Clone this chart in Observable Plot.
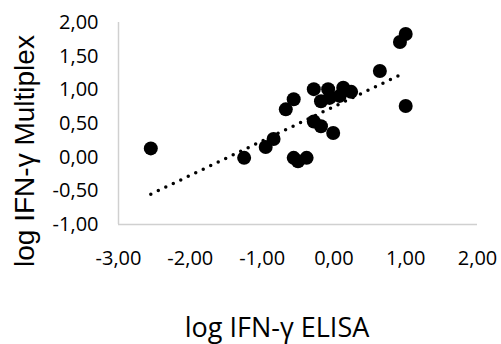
<!DOCTYPE html>
<html>
<head>
<meta charset="utf-8">
<script src="https://cdn.jsdelivr.net/npm/d3@7"></script>
<script src="https://cdn.jsdelivr.net/npm/@observablehq/plot@0.6"></script>
<style>
  html, body { margin: 0; padding: 0; background: #fff; }
</style>
</head>
<body>
<div id="chart"></div>
<script>
const xElisa = [-2.55, -1.25, -0.95, -0.84, -0.67, -0.56, -0.56, -0.50, -0.38, -0.28, -0.08, 0.13, 0.24, -0.18, -0.06, 0.08, -0.28, -0.18, -0.01, 1.00, 0.92, 0.64, 1.00];
const yMultiplex = [0.13, -0.01, 0.15, 0.27, 0.71, 0.86, -0.01, -0.06, -0.01, 1.01, 1.01, 1.03, 0.97, 0.83, 0.88, 0.91, 0.53, 0.46, 0.36, 1.83, 1.71, 1.28, 0.76];
const trendX = [-2.55, 0.98];
const trendY = [-0.55, 1.25];
const xTicks = [-3, -2, -1, 0, 1, 2];
const yTicks = [-1, -0.5, 0, 0.5, 1, 1.5, 2];
const xTitle = "log IFN-γ ELISA";
const yTitle = "log IFN-γ Multiplex";

const points = xElisa.map((x, i) => ({x, y: yMultiplex[i]}));
const trend = trendX.map((x, i) => ({x, y: trendY[i]}));
const fmt = d => d.toFixed(2).replace(".", ",");
const font = "'Open Sans', 'Noto Sans', sans-serif";

const chart = Plot.plot({
  width: 501,
  height: 344,
  marginLeft: 118,
  marginRight: 24,
  marginTop: 22,
  marginBottom: 120,
  style: {fontFamily: font, color: "#000", background: "#fff"},
  x: {domain: [-3, 2]},
  y: {domain: [-1, 2]},
  marks: [
    Plot.ruleX([-3], {stroke: "#d0d0d0", strokeWidth: 1.5}),
    Plot.ruleY([-1], {stroke: "#d0d0d0", strokeWidth: 1.5}),
    Plot.axisX({ticks: xTicks, tickSize: 0, tickPadding: 26, tickFormat: fmt, fontSize: 20, label: null}),
    Plot.axisY({ticks: yTicks, tickSize: 0, tickPadding: 20, tickFormat: fmt, fontSize: 20, label: null}),
    Plot.line(trend, {x: "x", y: "y", stroke: "#000", strokeWidth: 3.5, strokeDasharray: "0 8.3", strokeLinecap: "round"}),
    Plot.dot(points, {x: "x", y: "y", r: 7, fill: "#000", stroke: "none"}),
    Plot.text([xTitle], {frameAnchor: "bottom", lineAnchor: "middle", textAnchor: "middle", dx: -21, dy: 104, fontSize: 27, fill: "#000"}),
    Plot.text([yTitle], {frameAnchor: "left", lineAnchor: "middle", textAnchor: "middle", dx: -93.5, dy: 27.5, rotate: -90, fontSize: 28, fontFamily: "'Liberation Sans', Arial, sans-serif", fill: "#000"})
  ]
});
document.getElementById("chart").appendChild(chart);
</script>
</body>
</html>
